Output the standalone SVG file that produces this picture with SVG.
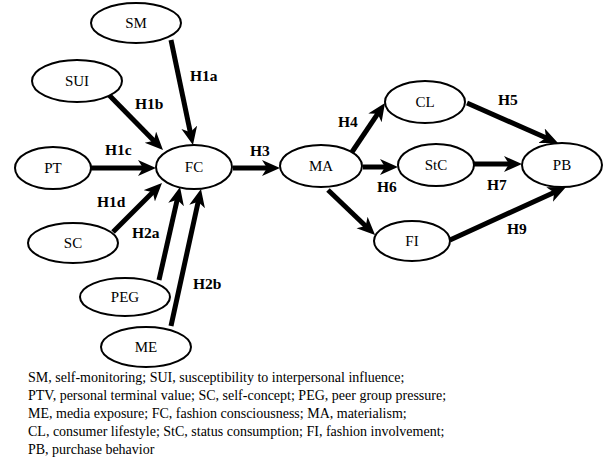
<svg xmlns="http://www.w3.org/2000/svg" width="603" height="462" viewBox="0 0 603 462">
<style>
.n ellipse{fill:#fff;stroke:#000;stroke-width:2}
.n text{font-size:15px;text-anchor:middle;fill:#000}
.e line{stroke:#000;stroke-width:5;marker-end:url(#ah)}
.lb{font-size:15.5px;font-weight:bold;fill:#000}
.lg{font-size:14px;fill:#000}
text{font-family:'Liberation Serif','Times New Roman',serif}
</style>
<defs>
<marker id="ah" markerUnits="userSpaceOnUse" markerWidth="20" markerHeight="18" refX="6" refY="8" orient="auto">
<path d="M0,0 L18,8 L0,16 L5,8 z" fill="#000"/>
</marker>
</defs>
<rect width="603" height="462" fill="#fff"/>
<g id="connectors" class="e">
<line x1="171" y1="40" x2="190.5" y2="133.2"/>
<line x1="109" y1="95" x2="154.6" y2="141.5"/>
<line x1="91" y1="168" x2="144" y2="168"/>
<line x1="233" y1="168" x2="268" y2="168"/>
<line x1="113" y1="232" x2="153.5" y2="191.5"/>
<line x1="159" y1="280" x2="177.4" y2="198.7"/>
<line x1="171" y1="326" x2="198.4" y2="200.7"/>
<line x1="352" y1="152" x2="378.3" y2="112.9"/>
<line x1="363" y1="167" x2="386" y2="167"/>
<line x1="328" y1="190" x2="366.4" y2="226.7"/>
<line x1="467" y1="103" x2="547" y2="138.2"/>
<line x1="473" y1="164" x2="510" y2="164"/>
<line x1="450" y1="240" x2="555.1" y2="192"/>
</g>
<g id="SM" class="n"><ellipse cx="136" cy="23" rx="45" ry="20"/><text x="136" y="28">SM</text></g>
<g id="SUI" class="n"><ellipse cx="77" cy="81" rx="45" ry="21"/><text x="77" y="86">SUI</text></g>
<g id="PT" class="n"><ellipse cx="53" cy="168" rx="38" ry="21"/><text x="53" y="173">PT</text></g>
<g id="FC" class="n"><ellipse cx="194" cy="167" rx="38" ry="22"/><text x="194" y="172">FC</text></g>
<g id="SC" class="n"><ellipse cx="73" cy="243" rx="45" ry="20"/><text x="73" y="248">SC</text></g>
<g id="PEG" class="n"><ellipse cx="125" cy="297" rx="45" ry="19"/><text x="125" y="302">PEG</text></g>
<g id="ME" class="n"><ellipse cx="146" cy="347" rx="45" ry="20"/><text x="146" y="352">ME</text></g>
<g id="MA" class="n"><ellipse cx="321" cy="166" rx="41" ry="21"/><text x="321" y="171">MA</text></g>
<g id="CL" class="n"><ellipse cx="425" cy="102" rx="40" ry="21"/><text x="425" y="107">CL</text></g>
<g id="StC" class="n"><ellipse cx="436" cy="165" rx="38" ry="21"/><text x="436" y="170">StC</text></g>
<g id="FI" class="n"><ellipse cx="412" cy="241" rx="38" ry="20"/><text x="412" y="246">FI</text></g>
<g id="PB" class="n"><ellipse cx="562" cy="165" rx="40" ry="22"/><text x="562" y="170">PB</text></g>
<g id="labels">
<text class="lb" x="190" y="81">H1a</text>
<text class="lb" x="135" y="109">H1b</text>
<text class="lb" x="105" y="155">H1c</text>
<text class="lb" x="250" y="156">H3</text>
<text class="lb" x="97" y="207">H1d</text>
<text class="lb" x="132" y="238">H2a</text>
<text class="lb" x="193" y="289">H2b</text>
<text class="lb" x="338" y="127">H4</text>
<text class="lb" x="498" y="105">H5</text>
<text class="lb" x="377" y="192">H6</text>
<text class="lb" x="487" y="190">H7</text>
<text class="lb" x="507" y="234">H9</text>
</g>
<g id="legend">
<text class="lg" x="28" y="382">SM, self-monitoring; SUI, susceptibility to interpersonal influence;</text>
<text class="lg" x="28" y="400">PTV, personal terminal value; SC, self-concept; PEG, peer group pressure;</text>
<text class="lg" x="28" y="418">ME, media exposure; FC, fashion consciousness; MA, materialism;</text>
<text class="lg" x="28" y="436">CL, consumer lifestyle; StC, status consumption; FI, fashion involvement;</text>
<text class="lg" x="28" y="454">PB, purchase behavior</text>
</g>
</svg>
